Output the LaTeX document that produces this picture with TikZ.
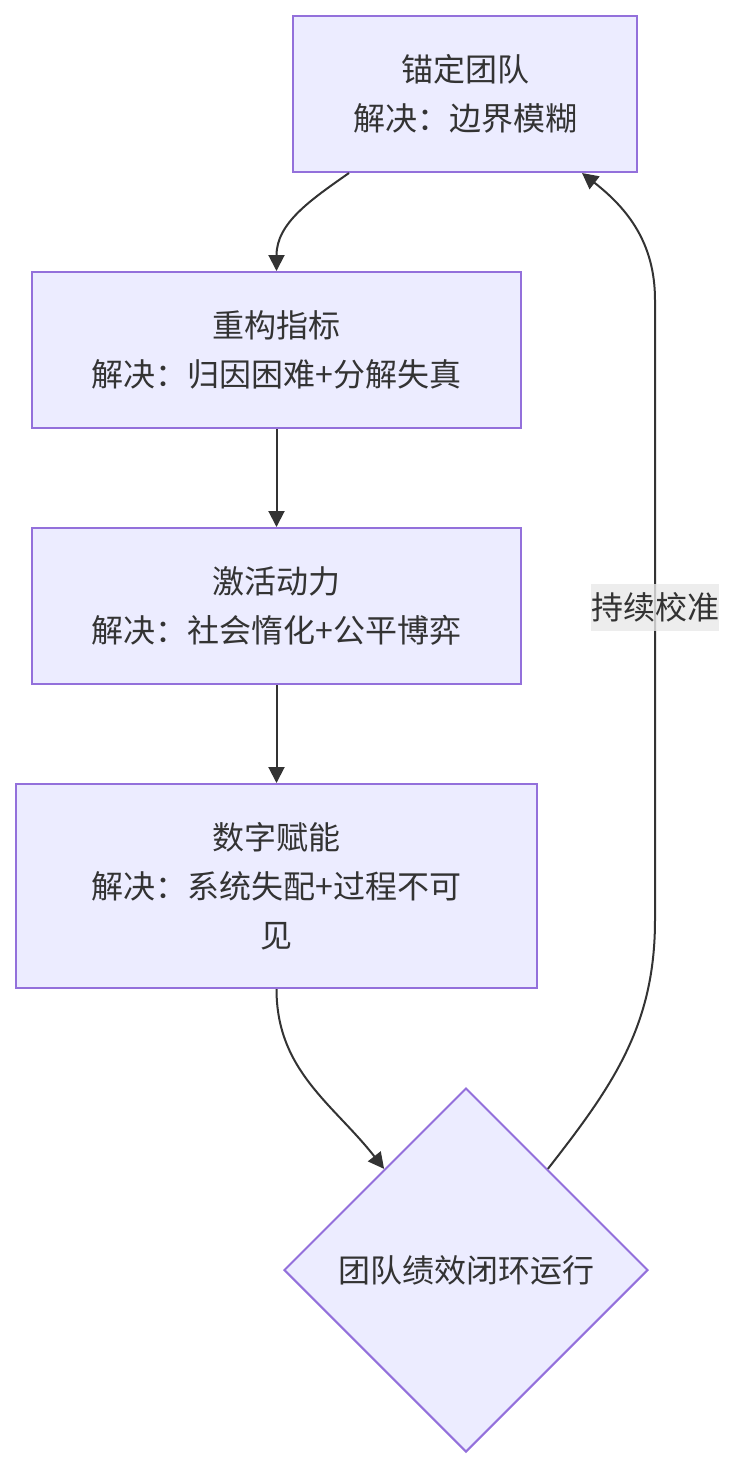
\documentclass[tikz,border=0pt]{standalone}
\usepackage{fontspec}
\setmainfont{Noto Sans CJK SC}
\usetikzlibrary{shapes.geometric,arrows.meta}
\definecolor{nodefill}{HTML}{ECECFF}
\definecolor{nodeline}{HTML}{9370DB}
\definecolor{inkgray}{HTML}{333333}
\definecolor{labelbg}{HTML}{E8E8E8}
\begin{document}
\begin{tikzpicture}[
        x=0.5pt, y=-0.5pt,
        box/.style={rectangle, draw=nodeline, fill=nodefill, line width=1pt, minimum height=78pt, font=\fontsize{16}{24.5}\selectfont, text=inkgray, align=center, inner sep=0pt},
        dia/.style={diamond, aspect=1, draw=nodeline, fill=nodefill, line width=1pt, minimum size=182pt, font=\fontsize{16}{24.5}\selectfont, text=inkgray, inner sep=0pt},
        lbl/.style={rectangle, fill=labelbg, fill opacity=0.8, text opacity=1, text=inkgray, font=\fontsize{16}{24.5}\selectfont, inner sep=0pt, minimum width=64pt, minimum height=23.5pt},
        arrow/.style={-{Triangle[length=8pt,width=8pt]}, line width=1pt, color=inkgray}
    ]
        \useasboundingbox (0,0) rectangle (734,1468);

        % Nodes
        \node[box, minimum width=172pt] (anchor) at (465,94) {锚定团队\\解决：边界模糊};
        \node[box, minimum width=244.5pt] (metric) at (276.5,350) {重构指标\\解决：归因困难+分解失真};
        \node[box, minimum width=244.5pt] (drive) at (276.5,606) {激活动力\\解决：社会惰化+公平博弈};
        \node[box, minimum width=260.5pt, minimum height=102pt] (digital) at (276.5,886) {数字赋能\\解决：系统失配+过程不可\\见};
        \node[dia] (loop) at (466,1270) {团队绩效闭环运行};

        % Edges
        \draw[arrow] ([xshift=-58pt]anchor.south) to[out=-145,in=90] (metric.north);
        \draw[arrow] (metric) -- (drive);
        \draw[arrow] (drive) -- (digital);
        \draw[arrow] (digital.south) to[out=-90,in=128] (loop.129);

        % Feedback
        \coordinate (up1) at (655,920);
        \coordinate (up2) at (655,300);
        \draw[arrow] (loop.51) to[out=52,in=-90] (up1) -- (up2) to[out=90,in=-38] ([xshift=58.5pt]anchor.south);
        \node[lbl] (calib) at (655,607) {持续校准};
    \end{tikzpicture}
\end{document}
